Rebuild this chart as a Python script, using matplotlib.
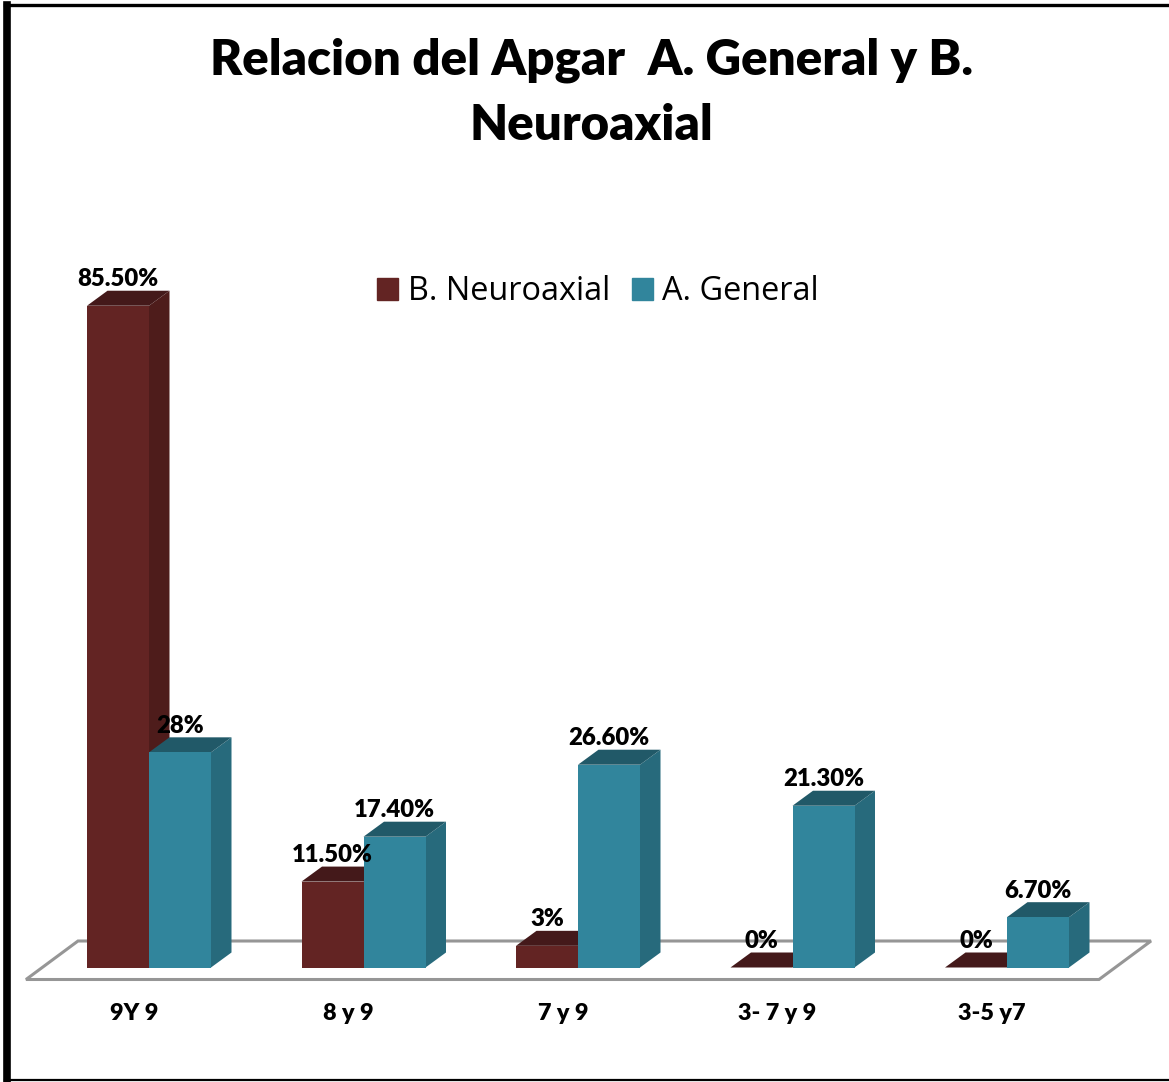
"""Apgar relation chart, pseudo-3D clustered bars drawn with polygons."""
import matplotlib
matplotlib.use("Agg")
import matplotlib.pyplot as plt
from matplotlib.lines import Line2D
from matplotlib.patches import Polygon

W, H = 1169, 1082

categories = ["9Y 9", "8 y 9", "7 y 9", "3- 7 y 9", "3-5 y7"]
# heights, printed labels kept apart
neuroaxial = [85.5, 11.1, 2.8, 0, 0]
general = [27.8, 16.9, 26.2, 20.9, 6.5]
neuroaxial_labels = ["85.50%", "11.50%", "3%", "0%", "0%"]
general_labels = ["28%", "17.40%", "26.60%", "21.30%", "6.70%"]

MAROON = ("#632423", "#44191A", "#4E1C1B")
TEAL = ("#31859C", "#215968", "#276A7C")

# pixel scale of the axes: category step and px per percent
STEP = 214.5
UNIT = 7.74
X0, Y0 = 149, 967.5
BAR_W = 62 / STEP
DX, DY = 20.5 / STEP, 15 / UNIT

plt.rcParams["font.family"] = ["Lato", "DejaVu Sans"]

fig = plt.figure(figsize=(W / 100, H / 100), dpi=100, facecolor="white")
ax = fig.add_axes([0, 0, 1, 1])
ax.set_xlim(-X0 / STEP, (W - X0) / STEP)
ax.set_ylim((Y0 - H) / UNIT, Y0 / UNIT)
ax.axis("off")


def px(x, y):
    return (x - X0) / STEP, (Y0 - y) / UNIT


# floor outline
floor = [px(26, 979.5), px(1099, 979.5), px(1151, 941), px(78, 941)]
ax.add_patch(Polygon(floor, closed=True, fill=False, edgecolor="#969696", lw=2.2, zorder=1))


def bar3d(left, value, colors, z):
    front, top, side = colors
    right = left + BAR_W
    ax.bar(left, value, BAR_W, align="edge", color=front, zorder=z + 0.2, lw=0)
    ax.add_patch(Polygon(
        [(left, value), (right, value), (right + DX, value + DY), (left + DX, value + DY)],
        color=top, lw=0, zorder=z + 0.1))
    ax.add_patch(Polygon(
        [(right, 0), (right + DX, DY), (right + DX, value + DY), (right, value)],
        color=side, lw=0, zorder=z))


for i in range(len(categories)):
    bar3d(i - BAR_W, neuroaxial[i], MAROON, 2 + i)
    bar3d(i, general[i], TEAL, 3 + i)
    ax.text(i - BAR_W + 0.145, neuroaxial[i] + DY + 0.05, neuroaxial_labels[i],
            ha="center", va="bottom", fontsize=17.2, fontweight="heavy", zorder=20)
    ax.text(i + 0.145, general[i] + DY + 0.05, general_labels[i],
            ha="center", va="bottom", fontsize=17.2, fontweight="heavy", zorder=20)
    ax.text(i - 0.07, px(0, 1014)[1], categories[i], ha="center", va="center",
            fontsize=16.8, fontweight="heavy")

fig.text(591 / W, 1 - 60 / H, "Relacion del Apgar  A. General y B.", ha="center", va="center",
         fontsize=35.4, fontweight="heavy")
fig.text(591 / W, 1 - 125 / H, "Neuroaxial", ha="center", va="center",
         fontsize=35.4, fontweight="heavy")

handles = [plt.Rectangle((0, 0), 1, 1, color=MAROON[0]), plt.Rectangle((0, 0), 1, 1, color=TEAL[0])]
ax.legend(handles, ["B. Neuroaxial", "A. General"], ncol=2, frameon=False,
          loc="center", bbox_to_anchor=(598 / W, 1 - 292 / H), bbox_transform=fig.transFigure,
          prop={"family": "Open Sans", "size": 23.4}, handlelength=0.65, handleheight=0.65,
          handletextpad=0.28, columnspacing=0.68)

# page frame: heavy left side, thin top and bottom
for xs, ys, lw in [
    ([7, 7], [5, 1081], 5.5),
    ([5, W], [5, 5], 2.4),
    ([5, W], [1080, 1080], 1.6),
]:
    fig.add_artist(Line2D([x / W for x in xs], [1 - y / H for y in ys], color="black", lw=lw))

fig.savefig("out.png", dpi=100)
